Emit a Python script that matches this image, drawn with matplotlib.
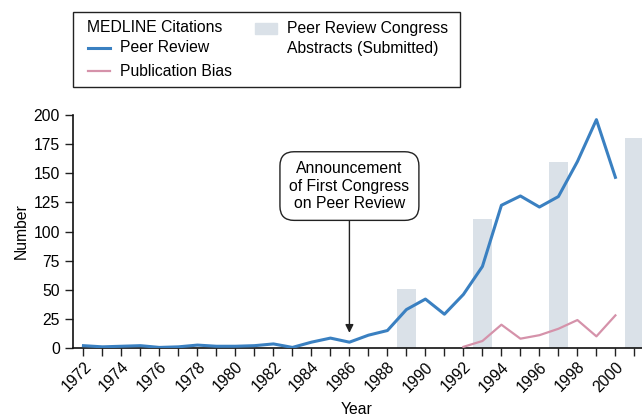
import matplotlib.pyplot as plt
from matplotlib.patches import Rectangle
from matplotlib.lines import Line2D

plt.rcParams['font.family'] = ['Liberation Sans', 'DejaVu Sans']

years = list(range(1972, 2001))
peer_review = [2, 1, 1.5, 2, 0.5, 1, 2.5, 1.5, 1.5, 2, 3.5, 0.5, 5, 8.5, 5,
               11, 15, 33, 42, 29, 46, 70, 122.5, 130.5, 121, 130, 160, 196, 146.5]
bias_years = list(range(1992, 2001))
pub_bias = [1, 6, 20, 8, 11, 16.5, 24, 10, 28]
congress_years = [1989, 1993, 1997, 2001]
abstracts = [51, 111, 160, 180]

blue = '#3a80c1'
pink = '#d592aa'
bar_gray = '#dae1e8'
fs = 11.3

fig = plt.figure(figsize=(6.42, 4.17), dpi=100)
ax = fig.add_axes([73 / 642, 1 - 348 / 417, 1 - 73 / 642, (348 - 115) / 417])

ax.bar(congress_years, abstracts, width=1.0, color=bar_gray, zorder=1)
ax.plot(years, peer_review, color=blue, lw=2.2, zorder=3)
ax.plot(bias_years, pub_bias, color=pink, lw=1.6, zorder=3)

ax.set_xlim(1971.45, 2001.4)
ax.set_ylim(0, 200)
ax.set_yticks(range(0, 201, 25))
ax.set_xticks(range(1972, 2002))
ax.set_xticklabels([str(y) if y % 2 == 0 and y <= 2000 else '' for y in range(1972, 2002)],
                   rotation=45, ha='right', rotation_mode='anchor')
ax.tick_params(axis='both', direction='out', length=6, width=1, labelsize=fs, color='#222222')
ax.tick_params(axis='x', pad=2)
for s in ['top', 'right']:
    ax.spines[s].set_visible(False)
for s in ['left', 'bottom']:
    ax.spines[s].set_linewidth(1.2)
    ax.spines[s].set_color('#111111')

ax.set_xlabel('Year', fontsize=fs)
ax.set_ylabel('Number', fontsize=fs)
ax.xaxis.set_label_coords(0.499, -0.233)
ax.yaxis.set_label_coords(-0.077, 0.5)

ax.annotate('Announcement\nof First Congress\non Peer Review', xy=(1986, 13), xytext=(1986, 139),
            ha='center', va='center', fontsize=fs, linespacing=1.2,
            bbox=dict(boxstyle='round,pad=0.6,rounding_size=0.9', fc='white', ec='#222222', lw=1),
            arrowprops=dict(arrowstyle='-|>', color='#222222', lw=1, mutation_scale=12, shrinkA=0, shrinkB=0),
            zorder=5)

# legend drawn by hand in pixel positions (top-left origin)
W, H = 642, 417
def fx(x): return x / W
def fy(y): return 1 - y / H

fig.patches.append(Rectangle((fx(73), fy(87)), fx(460) - fx(73), fy(12) - fy(87),
                             transform=fig.transFigure, fill=False, ec='#222222', lw=1))
fig.text(fx(87), fy(28), 'MEDLINE Citations', fontsize=fs, va='center', ha='left')
fig.lines.append(Line2D([fx(88), fx(110)], [fy(48), fy(48)], transform=fig.transFigure, color=blue, lw=2.2))
fig.text(fx(120), fy(48), 'Peer Review', fontsize=fs, va='center', ha='left')
fig.lines.append(Line2D([fx(88), fx(110)], [fy(71), fy(71)], transform=fig.transFigure, color=pink, lw=1.6))
fig.text(fx(120), fy(71), 'Publication Bias', fontsize=fs, va='center', ha='left')
fig.patches.append(Rectangle((fx(255), fy(34)), fx(277) - fx(255), fy(23) - fy(34),
                             transform=fig.transFigure, color=bar_gray))
fig.text(fx(287), fy(28), 'Peer Review Congress', fontsize=fs, va='center', ha='left')
fig.text(fx(287), fy(48), 'Abstracts (Submitted)', fontsize=fs, va='center', ha='left')

fig.savefig('out.png', dpi=100)
